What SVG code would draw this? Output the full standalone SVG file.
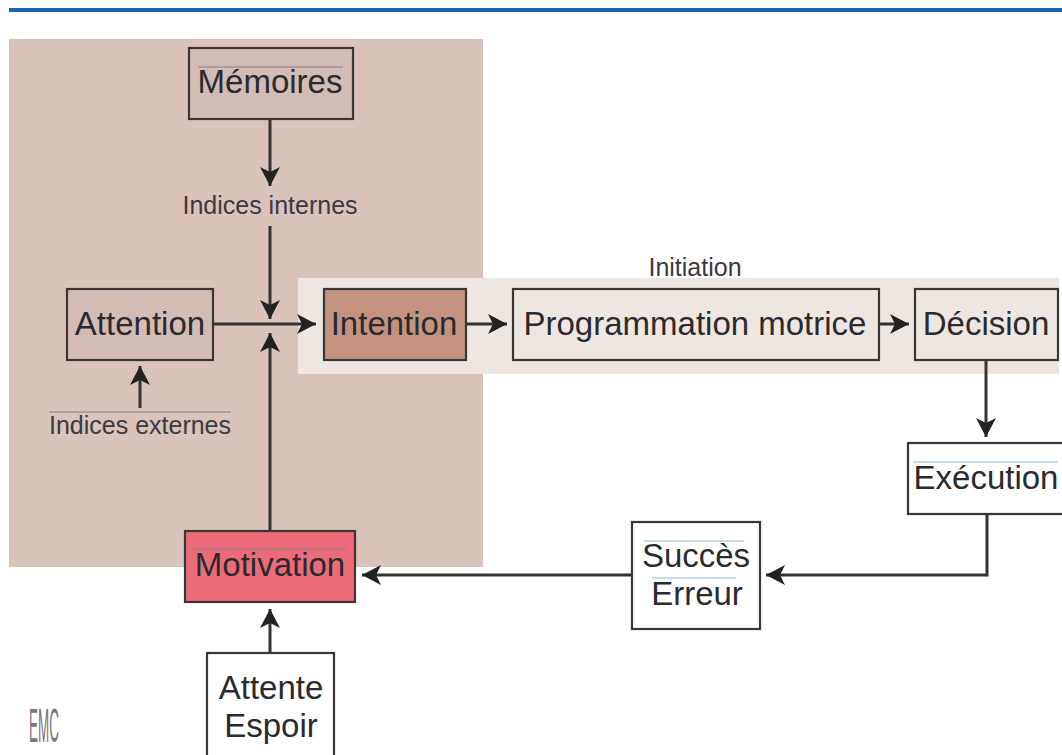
<svg xmlns="http://www.w3.org/2000/svg" width="1062" height="755" viewBox="0 0 1062 755">
<style>
text{font-family:"Liberation Sans",Arial,sans-serif;fill:#2a2a30;text-anchor:middle}
.t{font-size:33px}
.s{font-size:25px;fill:#3a3a44}
.b{stroke:#3a3636;stroke-width:2.2;fill:none}
.c{stroke:#333;stroke-width:3;fill:none}
.r{stroke:#8fb6d2;stroke-width:1.2}
.r2{stroke:#8a7f8c;stroke-width:1.2}
</style>
<defs>
<marker id="a" markerUnits="userSpaceOnUse" markerWidth="22" markerHeight="22" refX="20" refY="11" orient="auto">
<path d="M20 11 L1 1 L6 11 L1 21 Z" fill="#222"/>
</marker>
</defs>
<rect id="topbar" x="9" y="8" width="1053" height="4" fill="#1a66ae"/>
<rect id="zone-intention" x="9" y="39" width="474" height="528" fill="#d9c3ba"/>
<rect id="zone-initiation" x="298" y="278" width="761" height="96" fill="#eee7e1"/>
<g id="connectors">
<path class="c" marker-end="url(#a)" d="M270 119V186"/>
<path class="c" marker-end="url(#a)" d="M270 226V319"/>
<path class="c" marker-end="url(#a)" d="M214 324H316"/>
<path class="c" marker-end="url(#a)" d="M270 530V333"/>
<path class="c" marker-end="url(#a)" d="M140 408V366"/>
<path class="c" marker-end="url(#a)" d="M466 324H507"/>
<path class="c" marker-end="url(#a)" d="M879 324H909"/>
<path class="c" marker-end="url(#a)" d="M986 360V437"/>
<path class="c" marker-end="url(#a)" d="M987 515V575H766"/>
<path class="c" marker-end="url(#a)" d="M632 575H362"/>
<path class="c" marker-end="url(#a)" d="M270 653V609"/>
</g>
<g id="memoires">
<rect class="b" x="189" y="48" width="164" height="71" style="fill:#d3bcb5"/>
<line class="r2" x1="198" y1="67" x2="343" y2="67"/>
<text class="t" x="270" y="93">Mémoires</text>
</g>
<g id="indices-internes"><text class="s" x="270" y="214">Indices internes</text></g>
<g id="attention">
<rect class="b" x="67" y="289" width="146" height="71" style="fill:#d3bcb5"/>
<text class="t" x="140" y="335">Attention</text>
</g>
<g id="indices-externes">
<line class="r2" x1="49" y1="412" x2="231" y2="412"/>
<text class="s" x="140" y="434">Indices externes</text>
</g>
<g id="intention">
<rect class="b" x="324" y="289" width="142" height="71" style="fill:#c39380"/>
<text class="t" x="394" y="335">Intention</text>
</g>
<g id="initiation"><text class="s" x="695" y="276">Initiation</text></g>
<g id="programmation">
<rect class="b" x="513" y="289" width="366" height="71" style="fill:#eee7e1"/>
<text class="t" x="695" y="335">Programmation motrice</text>
</g>
<g id="decision">
<rect class="b" x="915" y="289" width="143" height="71" style="fill:#eee7e1"/>
<text class="t" x="986" y="335">Décision</text>
</g>
<g id="execution">
<rect class="b" x="908" y="443" width="160" height="71" style="fill:#fff"/>
<line class="r" x1="913" y1="462" x2="1058" y2="462"/>
<text class="t" x="986" y="489">Exécution</text>
</g>
<g id="succes">
<rect class="b" x="632" y="522" width="128" height="107" style="fill:#fff"/>
<line class="r" x1="644" y1="541" x2="744" y2="541"/>
<line class="r" x1="652" y1="578" x2="736" y2="578"/>
<text class="t" x="696" y="567">Succès</text>
<text class="t" x="697" y="605">Erreur</text>
</g>
<g id="motivation">
<rect class="b" x="185" y="531" width="170" height="71" style="fill:#ec6b78"/>
<line class="r2" x1="194" y1="549" x2="347" y2="549"/>
<text class="t" x="270" y="576">Motivation</text>
</g>
<g id="attente">
<rect class="b" x="207" y="653" width="127" height="110" style="fill:#fff"/>
<text class="t" x="271" y="699">Attente</text>
<text class="t" x="271" y="737">Espoir</text>
</g>
<text id="emc" x="0" y="0" style="font-size:48px;fill:#77777c" transform="translate(44 742) scale(.28 1)">EMC</text>
</svg>
